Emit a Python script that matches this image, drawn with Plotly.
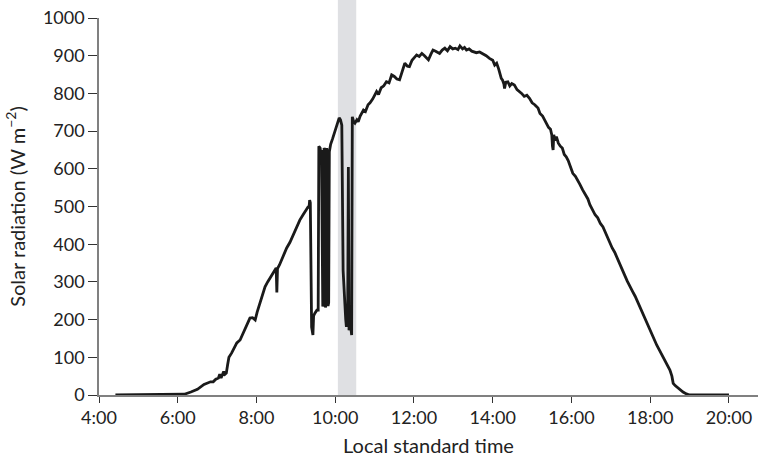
import plotly.graph_objects as go

# measured solar radiation over the day (local standard time, W m-2)
times = [
    "4:25", "6:00", "6:10", "6:20", "6:30", "6:40", "6:50", "6:54", "6:58", "7:02",
    "7:04", "7:06", "7:10", "7:12", "7:14", "7:16", "7:18", "7:22", "7:26", "7:30",
    "7:35", "7:40", "7:45", "7:50", "7:54", "7:58", "8:01", "8:05", "8:09", "8:13",
    "8:17", "8:21", "8:25", "8:28", "8:30", "8:31", "8:32", "8:35", "8:38", "8:42",
    "8:46", "8:51", "8:56", "9:01", "9:06", "9:11", "9:16", "9:19", "9:20", "9:21",
    "9:22", "9:23", "9:24", "9:26", "9:27", "9:29", "9:32", "9:34", "9:35", "9:37",
    "9:38", "9:39", "9:40", "9:41", "9:42", "9:43", "9:44", "9:45", "9:46", "9:47",
    "9:48", "9:49", "9:50", "9:51", "9:53", "9:56", "9:58", "10:00", "10:03", "10:06",
    "10:08", "10:10", "10:12", "10:14", "10:16", "10:17", "10:19", "10:20", "10:21", "10:23",
    "10:24", "10:25", "10:26", "10:28", "10:30", "10:33", "10:35", "10:38", "10:43", "10:46",
    "10:50", "10:53", "10:57", "11:00", "11:03", "11:06", "11:10", "11:14", "11:18", "11:22",
    "11:26", "11:30", "11:34", "11:38", "11:42", "11:46", "11:50", "11:53", "11:57", "12:01",
    "12:04", "12:08", "12:12", "12:16", "12:20", "12:22", "12:26", "12:29", "12:33", "12:36",
    "12:39", "12:43", "12:47", "12:51", "12:55", "12:59", "13:03", "13:07", "13:10", "13:14",
    "13:17", "13:20", "13:24", "13:28", "13:32", "13:35", "13:40", "13:45", "13:50", "13:55",
    "14:00", "14:03", "14:06", "14:09", "14:11", "14:13", "14:15", "14:17", "14:18", "14:20",
    "14:23", "14:26", "14:29", "14:33", "14:37", "14:41", "14:44", "14:48", "14:52", "14:56",
    "15:00", "15:04", "15:09", "15:12", "15:16", "15:19", "15:22", "15:25", "15:28", "15:30",
    "15:31", "15:32", "15:33", "15:35", "15:37", "15:40", "15:43", "15:46", "15:49", "15:52",
    "15:55", "15:58", "16:02", "16:06", "16:10", "16:13", "16:17", "16:21", "16:25", "16:28",
    "16:32", "16:36", "16:40", "16:44", "16:48", "16:52", "16:55", "16:58", "17:02", "17:06",
    "17:09", "17:13", "17:17", "17:21", "17:25", "17:29", "17:33", "17:37", "17:40", "17:44",
    "17:48", "17:52", "17:56", "17:59", "18:03", "18:07", "18:10", "18:14", "18:18", "18:22",
    "18:26", "18:30", "18:33", "18:35", "18:38", "18:40", "18:45", "18:50", "18:55", "19:00",
    "19:05", "20:00",
]
radiation = [
    0, 0, 2, 8, 15, 28, 35, 35, 42, 45,
    55, 45, 62, 55, 58, 80, 100, 111, 125, 138,
    146, 165, 185, 204, 205, 199, 220, 244, 262, 287,
    300, 312, 320, 330, 337, 272, 335, 345, 358, 375,
    390, 405, 424, 445, 464, 478, 491, 500, 495, 517,
    510, 350, 180, 159, 210, 217, 225, 225, 660, 655,
    640, 650, 240, 235, 240, 655, 650, 232, 240, 655,
    640, 236, 245, 645, 665, 680, 690, 703, 715, 735,
    730, 716, 330, 240, 200, 181, 230, 605, 172, 190,
    165, 159, 738, 725, 721, 730, 725, 740, 756, 752,
    770, 775, 785, 795, 805, 797, 815, 820, 831, 828,
    849, 845, 838, 836, 860, 880, 872, 871, 888, 895,
    902, 898, 906, 900, 893, 889, 905, 915, 912, 908,
    906, 915, 920, 913, 924, 918, 920, 916, 926, 918,
    922, 915, 918, 912, 910, 908, 910, 906, 900, 893,
    888, 875, 880, 865, 850, 840, 835, 825, 813, 830,
    831, 820, 826, 822, 810, 805, 800, 792, 795, 787,
    775, 770, 761, 747, 740, 730, 721, 710, 705, 690,
    660, 650, 690, 675, 685, 668, 660, 655, 638, 632,
    622, 605, 588, 580, 565, 558, 544, 530, 520, 505,
    491, 478, 470, 455, 446, 430, 418, 402, 390, 378,
    365, 349, 335, 318, 302, 287, 275, 262, 250, 234,
    220, 203, 188, 172, 158, 145, 132, 119, 105, 92,
    80, 66, 50, 31, 25, 22, 15, 8, 3, 0,
    0, 0,
]

# shaded period
band_start = "10:04"
band_end = "10:32"

tick_hours = [4, 6, 8, 10, 12, 14, 16, 18, 20]
tick_labels = [f"{h}:00" for h in tick_hours]


def to_hours(t):
    h, m = t.split(":")
    return int(h) + int(m) / 60


x = [to_hours(t) for t in times]

fig = go.Figure()
fig.add_vrect(
    x0=to_hours(band_start), x1=to_hours(band_end),
    y0=0, y1=1000, yref="y",
    fillcolor="#dfe0e3", line_width=0, layer="below",
)
fig.add_trace(
    go.Scatter(
        x=x,
        y=radiation,
        mode="lines",
        line=dict(color="#1a1a1a", width=2.8),
        showlegend=False,
    )
)

font = dict(family="Lato, 'Open Sans', sans-serif", size=17, color="#222222")
tick_font = dict(family="Lato, 'Open Sans', sans-serif", size=18, color="#222222")

fig.update_layout(
    width=758,
    height=460,
    margin=dict(l=99, r=0, t=18, b=65, autoexpand=False),
    plot_bgcolor="white",
    paper_bgcolor="white",
    font=font,
    xaxis=dict(
        range=[4, 20.737],
        tickvals=tick_hours,
        ticktext=tick_labels,
        tickfont=tick_font,
        ticks="outside",
        ticklen=6,
        tickcolor="#333333",
        showline=True,
        linecolor="#808080",
        linewidth=1.5,
        showgrid=False,
        zeroline=False,
        automargin=False,
        title=dict(text="Local standard time", standoff=12),
    ),
    yaxis=dict(
        range=[0, 1000],
        tickvals=list(range(0, 1001, 100)),
        tickfont=tick_font,
        ticks="outside",
        ticklen=9,
        tickcolor="#333333",
        showline=True,
        linecolor="#808080",
        linewidth=1.5,
        showgrid=False,
        zeroline=False,
        automargin=False,
        title=dict(text="Solar radiation (W m<sup>\u22122</sup>)", standoff=12),
    ),
)

# the page body has a default 8px margin, drop it so the figure sits at 0,0
fig.write_html(
    "out.html",
    config={"displayModeBar": False},
    post_script="document.body.style.margin='0';",
)
